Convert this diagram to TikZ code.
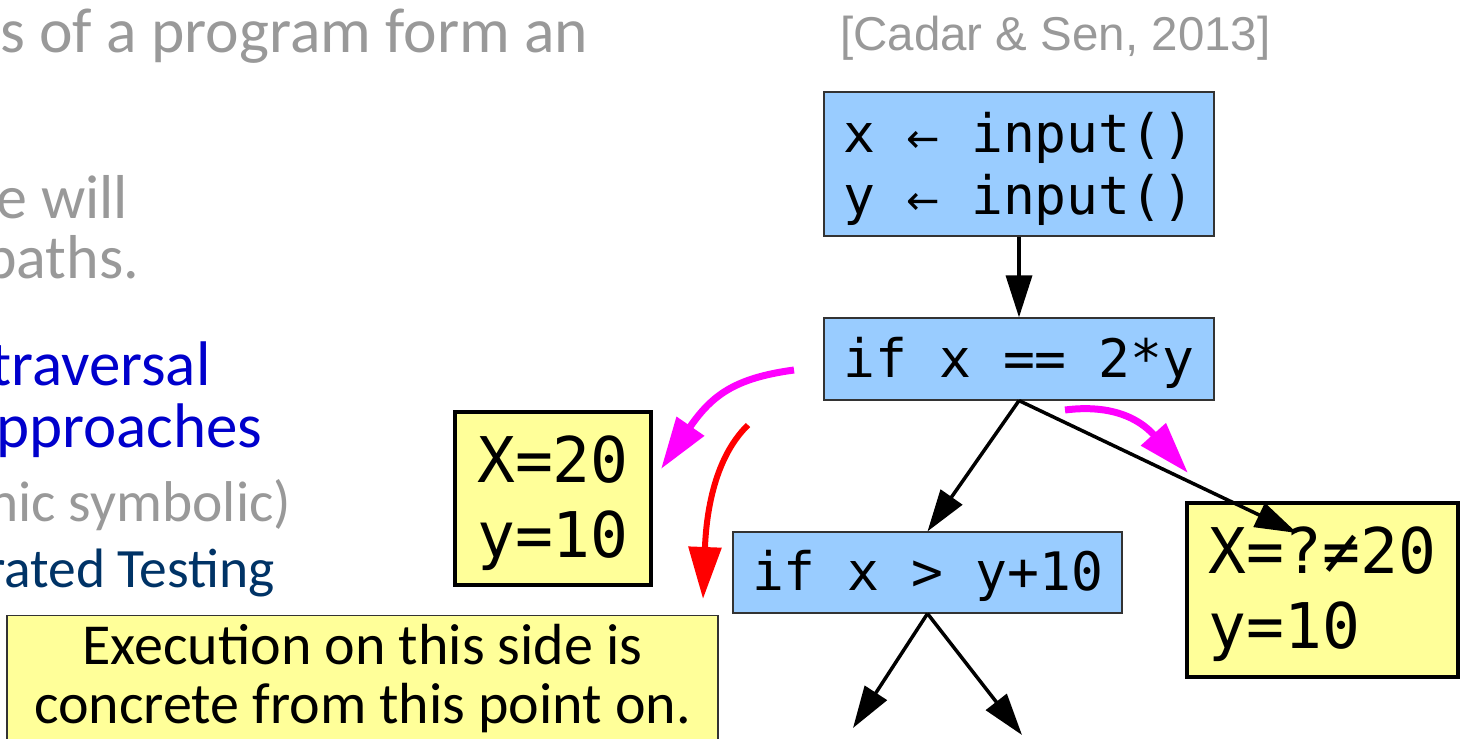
\documentclass[tikz,border=0pt]{standalone}
\usepackage{fontspec}
\usetikzlibrary{arrows.meta}
\newfontfamily\slidefont{Carlito}
\newfontfamily\codefont{DejaVu Sans Mono}
\newfontfamily\citefont{Liberation Sans}
\newfontfamily\arrowfont{DejaVu Sans}
\definecolor{GrayClr}{RGB}{153,153,153}
\definecolor{BlueClr}{RGB}{0,0,204}
\definecolor{NavyClr}{RGB}{0,51,102}
\definecolor{CodeClr}{RGB}{153,204,255}
\definecolor{NoteClr}{RGB}{255,255,153}
\definecolor{HintClr}{RGB}{255,0,255}
\newcommand{\assign}{\makebox[0.602em]{\arrowfont\fontsize{40}{40}\selectfont ←}}

\begin{document}
\begin{tikzpicture}[x=1pt,y=-1pt,
  codebox/.style={draw=black!80,line width=1.2pt,fill=CodeClr,inner sep=0pt,
    align=left,font=\codefont\fontsize{53}{62}\selectfont},
  valbox/.style={draw=black,line width=3.5pt,fill=NoteClr,inner sep=0pt,
    align=left,font=\codefont\fontsize{63}{75}\selectfont},
  bullet/.style={anchor=base west,inner sep=0pt,font=\slidefont\fontsize{62}{74}\selectfont},
  flow/.style={line width=3.5pt,-{Triangle[length=42pt,width=26pt]}},
  hint/.style={line width=7pt,HintClr,-{Triangle[length=52pt,width=32pt]}}]
\useasboundingbox (0,0) rectangle (1460,739);
\clip (0,0) rectangle (1460,739);
\fill[white] (0,0) rectangle (1460,739);

% slide text, cut at the left edge
\node[bullet,text=GrayClr,font=\slidefont\fontsize{63.5}{74}\selectfont] (line1) at (0,52) {s of a program form an};
\node[bullet,text=GrayClr] (line2) at (-4,218) {e will};
\node[bullet,text=GrayClr] (line3) at (-16,278) {paths.};
\node[bullet,text=BlueClr,font=\slidefont\fontsize{63}{74}\selectfont] (line4) at (-10,385) {traversal};
\node[bullet,text=BlueClr,font=\slidefont\fontsize{63}{74}\selectfont] (line5) at (-4,447) {pproaches};
\node[bullet,text=GrayClr,font=\slidefont\fontsize{57.5}{68}\selectfont] (line6) at (-12,521) {nic symbolic)};
\node[bullet,text=NavyClr,font=\slidefont\fontsize{55.5}{64}\selectfont] (line7) at (-14,587) {rated Testing};

\node[anchor=base west,inner sep=0pt,text=GrayClr,font=\citefont\fontsize{47.5}{57}\selectfont] (cite) at (840,50) {[Cadar \& Sen, 2013]};

% program tree
\node[codebox,minimum width=390,minimum height=144] (inbox) at (1019,164) {\rule{0pt}{51pt}x \assign{} input()\\y \assign{} input()};
\node[codebox,minimum width=390,minimum height=82,text height=48pt,text depth=12pt] (ifeq) at (1019,359) {if x == 2*y};
\node[codebox,minimum width=389,minimum height=81,text height=48pt,text depth=12pt] (ifgt) at (927.5,572.5) {if x > y+10};

\node[valbox,minimum width=196,minimum height=173] (concrete) at (553,498.5) {\rule{0pt}{56pt}X=20\\y=10};
\node[valbox,minimum width=271,minimum height=174] (symbolic) at (1322.5,590) {\rule{0pt}{56pt}X=?≠20\\y=10};

\node[draw=black!80,line width=1.2pt,fill=NoteClr,anchor=north,minimum width=711,inner ysep=9pt,
  align=center,font=\slidefont\fontsize{58}{59}\selectfont] (note) at (362.5,615) {Execution on this side is\\concrete from this point on.};

\coordinate (symtip) at (1297,533);
\coordinate (lefttip) at (853,728);
\coordinate (righttip) at (1022,735);

\draw[flow] (inbox) -- (ifeq);
\draw[flow] (ifeq.south) -- (ifgt.north);
\draw[flow] (ifeq.south) -- (symtip);
\draw[flow] (ifgt.south) -- (lefttip);
\draw[flow] (ifgt.south) -- (righttip);

% hints
\coordinate (leftstart) at (794,370);
\coordinate (leftend) at (661,469);
\coordinate (downstart) at (748,425);
\coordinate (downend) at (703,599);
\coordinate (rightstart) at (1065,410);
\coordinate (rightend) at (1188,473);
\draw[hint] (leftstart) .. controls (735,378) and (712,395) .. (leftend);
\draw[hint,red,line width=6pt] (downstart) .. controls (712,460) and (706,520) .. (downend);
\draw[hint] (rightstart) .. controls (1120,403) and (1145,425) .. (rightend);
\end{tikzpicture}
\end{document}
